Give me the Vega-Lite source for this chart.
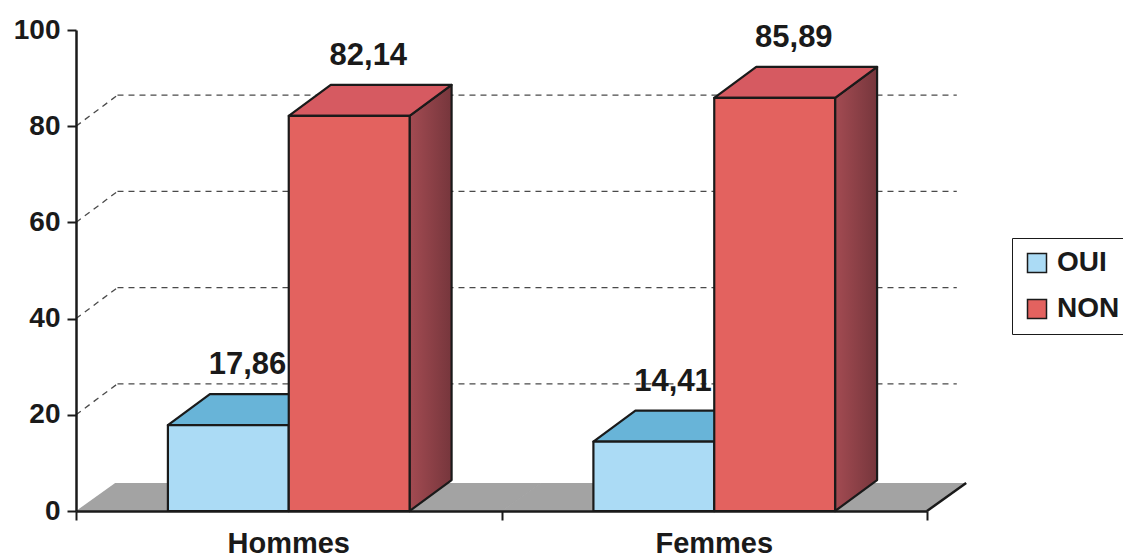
{
  "$schema": "https://vega.github.io/schema/vega-lite/v6.json",
  "width": 851,
  "height": 481,
  "autosize": {"type": "none"},
  "padding": {"left": 76, "top": 30, "right": 196, "bottom": 49},
  "background": "#ffffff",
  "config": {
    "font": "Liberation Sans",
    "view": {"stroke": null}
  },
  "datasets": {
    "reponses": [
      {"sexe": "Hommes", "reponse": "OUI", "pct": 17.86},
      {"sexe": "Hommes", "reponse": "NON", "pct": 82.14},
      {"sexe": "Femmes", "reponse": "OUI", "pct": 14.41},
      {"sexe": "Femmes", "reponse": "NON", "pct": 85.89}
    ],
    "graduations": [
      {"niveau": 20},
      {"niveau": 40},
      {"niveau": 60},
      {"niveau": 80}
    ]
  },
  "layer": [
    {
      "description": "Plancher gris en perspective, un morceau par groupe",
      "data": {"name": "reponses"},
      "transform": [
        {"filter": "datum.reponse === 'OUI'"},
        {"calculate": "datum.sexe === 'Hommes' ? 0 : 1", "as": "g"},
        {"calculate": "0", "as": "avant"},
        {"calculate": "5.8", "as": "arriere"},
        {"fold": ["avant", "arriere"], "as": ["bord", "yp"]},
        {"calculate": "datum.g + (datum.bord === 'arriere' ? 0.092 : 0)", "as": "xa"},
        {"calculate": "datum.xa + 1.002", "as": "xb"}
      ],
      "mark": {"type": "area", "orient": "horizontal", "fill": "#a3a3a3", "stroke": null},
      "encoding": {
        "y": {"field": "yp", "type": "quantitative"},
        "x": {"field": "xa", "type": "quantitative"},
        "x2": {"field": "xb"},
        "detail": {"field": "sexe"}
      }
    },
    {
      "description": "Arête droite du plancher",
      "data": {"name": "reponses"},
      "transform": [
        {"filter": "datum.reponse === 'OUI' && datum.sexe === 'Femmes'"}
      ],
      "mark": {"type": "rule", "stroke": "#1a1a1a", "strokeWidth": 2.5},
      "encoding": {
        "x": {"datum": 2, "type": "quantitative"},
        "x2": {"datum": 2.092},
        "y": {"datum": 0, "type": "quantitative"},
        "y2": {"datum": 5.8}
      }
    },
    {
      "description": "Quadrillage du mur du fond : segments obliques",
      "data": {"name": "graduations"},
      "transform": [{"calculate": "datum.niveau + 6.44", "as": "fond"}],
      "mark": {"type": "rule", "stroke": "#4a4a4a", "strokeWidth": 1.3, "strokeDash": [6, 5]},
      "encoding": {
        "x": {"datum": 0, "type": "quantitative"},
        "x2": {"datum": 0.0975},
        "y": {"field": "niveau", "type": "quantitative"},
        "y2": {"field": "fond"}
      }
    },
    {
      "description": "Quadrillage du mur du fond : lignes horizontales",
      "data": {"name": "graduations"},
      "transform": [{"calculate": "datum.niveau + 6.44", "as": "fond"}],
      "mark": {"type": "rule", "stroke": "#4a4a4a", "strokeWidth": 1.3, "strokeDash": [6, 5]},
      "encoding": {
        "x": {"datum": 0.0975, "type": "quantitative"},
        "x2": {"datum": 2.07},
        "y": {"field": "fond", "type": "quantitative"}
      }
    },
    {
      "description": "Faces latérales des barres",
      "data": {"name": "reponses"},
      "transform": [
        {"calculate": "datum.sexe === 'Hommes' ? 0 : 1", "as": "g"},
        {"calculate": "datum.g + (datum.reponse === 'OUI' ? 0.216 : 0.5)", "as": "x0"},
        {"calculate": "datum.x0 + 0.284", "as": "x1"},
        {"calculate": "datum.x1 + 0.0987", "as": "x1b"},
        {"fold": ["x1", "x1b"], "as": ["coin", "xs"]},
        {"calculate": "datum.coin === 'x1b' ? 6.44 : 0", "as": "ybas"},
        {"calculate": "datum.pct + datum.ybas", "as": "yhaut"}
      ],
      "mark": {
        "type": "area", "orient": "vertical", "stroke": "#1a1a1a", "strokeWidth": 2.2, "strokeJoin": "round",
        "fill": {
          "gradient": "linear", "x1": 0, "y1": 0, "x2": 1, "y2": 0,
          "stops": [{"offset": 0, "color": "#a34b52"}, {"offset": 1, "color": "#76363c"}]
        }
      },
      "encoding": {
        "x": {"field": "xs", "type": "quantitative"},
        "y": {"field": "yhaut", "type": "quantitative"},
        "y2": {"field": "ybas"},
        "detail": [{"field": "sexe"}, {"field": "reponse"}]
      }
    },
    {
      "description": "Dessus des barres",
      "data": {"name": "reponses"},
      "transform": [
        {"calculate": "datum.sexe === 'Hommes' ? 0 : 1", "as": "g"},
        {"calculate": "datum.g + (datum.reponse === 'OUI' ? 0.216 : 0.5)", "as": "x0"},
        {"calculate": "datum.x0 + 0.284", "as": "x1"},
        {"calculate": "datum.pct", "as": "yf"},
        {"calculate": "datum.pct + 6.44", "as": "yb"},
        {"fold": ["yf", "yb"], "as": ["coin", "yt"]},
        {"calculate": "datum.x0 + (datum.coin === 'yb' ? 0.0987 : 0)", "as": "xa"},
        {"calculate": "datum.x1 + (datum.coin === 'yb' ? 0.0987 : 0)", "as": "xb"}
      ],
      "mark": {"type": "area", "orient": "horizontal", "stroke": "#1a1a1a", "strokeWidth": 2.2, "strokeJoin": "round"},
      "encoding": {
        "y": {"field": "yt", "type": "quantitative"},
        "x": {"field": "xa", "type": "quantitative"},
        "x2": {"field": "xb"},
        "detail": [{"field": "sexe"}, {"field": "reponse"}],
        "fill": {
          "condition": {"test": "datum.reponse === 'OUI'", "value": "#68b4d8"},
          "value": "#d65a61"
        }
      }
    },
    {
      "description": "Faces avant des barres, avec les axes et la légende",
      "data": {"name": "reponses"},
      "transform": [
        {"calculate": "datum.sexe === 'Hommes' ? 0 : 1", "as": "g"},
        {"calculate": "datum.g + (datum.reponse === 'OUI' ? 0.216 : 0.5)", "as": "x0"},
        {"calculate": "datum.x0 + 0.284", "as": "x1"}
      ],
      "mark": {"type": "rect", "stroke": "#1a1a1a", "strokeWidth": 2.2, "strokeJoin": "round"},
      "encoding": {
        "x": {
          "field": "x0", "type": "quantitative",
          "scale": {"domain": [0, 2], "nice": false, "zero": false},
          "axis": {
            "values": [0, 1, 2], "labels": false, "title": null, "grid": false,
            "domainColor": "#1a1a1a", "domainWidth": 2.5,
            "tickColor": "#1a1a1a", "tickWidth": 2, "tickSize": 9, "zindex": 1
          }
        },
        "x2": {"field": "x1"},
        "y": {
          "field": "pct", "type": "quantitative",
          "scale": {"domain": [0, 100], "nice": false},
          "axis": {
            "values": [0, 20, 40, 60, 80, 100], "title": null, "grid": false,
            "domainColor": "#1a1a1a", "domainWidth": 2.5,
            "tickColor": "#1a1a1a", "tickWidth": 2, "tickSize": 9,
            "labelFont": "Liberation Sans", "labelFontWeight": "bold", "labelFontSize": 28,
            "labelColor": "#1a1a1a", "labelPadding": 7, "zindex": 1
          }
        },
        "y2": {"datum": 0},
        "color": {
          "field": "reponse", "type": "nominal",
          "scale": {"domain": ["OUI", "NON"], "range": ["#abdbf5", "#e3625f"]},
          "legend": {
            "title": null, "orient": "none", "legendX": 936, "legendY": 208,
            "strokeColor": "#1a1a1a", "padding": 11,
            "symbolType": "square", "symbolSize": 361,
            "symbolStrokeColor": "#1a1a1a", "symbolStrokeWidth": 1.5, "symbolOpacity": 1,
            "labelFont": "Liberation Sans", "labelFontWeight": "bold", "labelFontSize": 28,
            "labelColor": "#1a1a1a", "labelOffset": 6, "rowPadding": 18
          }
        }
      }
    },
    {
      "description": "Valeurs au-dessus des barres, virgule décimale",
      "data": {"name": "reponses"},
      "transform": [
        {"calculate": "datum.sexe === 'Hommes' ? 0 : 1", "as": "g"},
        {"calculate": "datum.g + (datum.reponse === 'OUI' ? 0.216 : 0.5) + 0.142 + 0.045", "as": "xc"},
        {"calculate": "replace(format(datum.pct, '.2f'), '.', ',')", "as": "etiquette"}
      ],
      "mark": {
        "type": "text", "font": "Liberation Sans", "fontWeight": "bold", "fontSize": 31,
        "color": "#1a1a1a", "baseline": "alphabetic", "align": "center", "dy": -51
      },
      "encoding": {
        "x": {"field": "xc", "type": "quantitative"},
        "y": {"field": "pct", "type": "quantitative"},
        "text": {"field": "etiquette", "type": "nominal"}
      }
    },
    {
      "description": "Libellés des groupes sous l'axe horizontal",
      "data": {"name": "reponses"},
      "transform": [
        {"filter": "datum.reponse === 'OUI'"},
        {"calculate": "(datum.sexe === 'Hommes' ? 0 : 1) + 0.5", "as": "xg"}
      ],
      "mark": {
        "type": "text", "font": "Liberation Sans", "fontWeight": "bold", "fontSize": 29,
        "color": "#1a1a1a", "baseline": "alphabetic", "align": "center", "dy": 42
      },
      "encoding": {
        "x": {"field": "xg", "type": "quantitative"},
        "y": {"datum": 0, "type": "quantitative"},
        "text": {"field": "sexe", "type": "nominal"}
      }
    }
  ]
}
